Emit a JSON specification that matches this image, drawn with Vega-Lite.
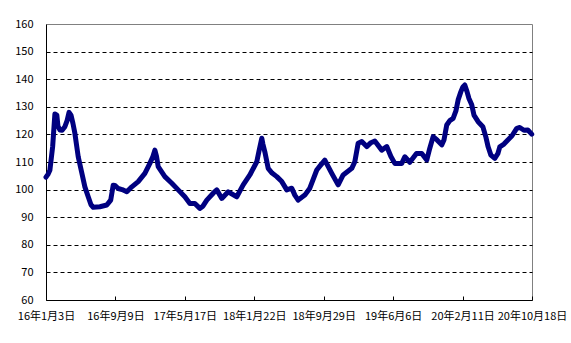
{
  "$schema": "https://vega.github.io/schema/vega-lite/v6.json",
  "width": 486,
  "height": 276,
  "autosize": {"type": "none"},
  "padding": {"left": 46, "top": 24, "right": 39, "bottom": 43},
  "background": "white",
  "config": {
    "view": {"stroke": "#808080", "strokeWidth": 1},
    "font": "Noto Sans CJK JP"
  },
  "data": {
    "values": [
      {"date": "2016-01-03", "value": 104.5},
      {"date": "2016-01-10", "value": 105.5},
      {"date": "2016-01-17", "value": 107},
      {"date": "2016-01-27", "value": 115.6},
      {"date": "2016-02-04", "value": 127.4},
      {"date": "2016-02-11", "value": 127},
      {"date": "2016-02-15", "value": 123},
      {"date": "2016-02-22", "value": 121.6},
      {"date": "2016-03-01", "value": 121.5},
      {"date": "2016-03-11", "value": 122.8},
      {"date": "2016-03-19", "value": 125},
      {"date": "2016-03-26", "value": 128},
      {"date": "2016-04-02", "value": 127},
      {"date": "2016-04-09", "value": 124},
      {"date": "2016-04-16", "value": 120.4},
      {"date": "2016-04-28", "value": 111.9},
      {"date": "2016-05-11", "value": 106},
      {"date": "2016-05-22", "value": 101},
      {"date": "2016-06-03", "value": 97.4},
      {"date": "2016-06-13", "value": 94.5},
      {"date": "2016-06-21", "value": 93.6},
      {"date": "2016-07-15", "value": 93.8},
      {"date": "2016-08-09", "value": 94.4},
      {"date": "2016-08-23", "value": 96.2},
      {"date": "2016-09-01", "value": 101.6},
      {"date": "2016-09-07", "value": 101.5},
      {"date": "2016-09-19", "value": 100.4},
      {"date": "2016-10-03", "value": 100},
      {"date": "2016-10-20", "value": 99.2},
      {"date": "2016-11-07", "value": 101},
      {"date": "2016-11-30", "value": 102.9},
      {"date": "2016-12-24", "value": 105.9},
      {"date": "2017-01-11", "value": 109.5},
      {"date": "2017-01-22", "value": 112},
      {"date": "2017-01-29", "value": 114.3},
      {"date": "2017-02-04", "value": 112},
      {"date": "2017-02-10", "value": 108.3},
      {"date": "2017-03-06", "value": 104.7},
      {"date": "2017-03-31", "value": 102.3},
      {"date": "2017-04-23", "value": 99.9},
      {"date": "2017-05-17", "value": 97.4},
      {"date": "2017-06-04", "value": 95},
      {"date": "2017-06-22", "value": 95},
      {"date": "2017-07-10", "value": 93.2},
      {"date": "2017-07-21", "value": 94},
      {"date": "2017-08-04", "value": 96.2},
      {"date": "2017-08-27", "value": 98.7},
      {"date": "2017-09-09", "value": 99.9},
      {"date": "2017-09-27", "value": 96.8},
      {"date": "2017-10-20", "value": 99.2},
      {"date": "2017-11-20", "value": 97.4},
      {"date": "2017-12-13", "value": 101.7},
      {"date": "2018-01-06", "value": 105.3},
      {"date": "2018-01-31", "value": 110.1},
      {"date": "2018-02-08", "value": 114},
      {"date": "2018-02-18", "value": 118.6},
      {"date": "2018-02-22", "value": 116.5},
      {"date": "2018-03-01", "value": 113.7},
      {"date": "2018-03-13", "value": 107.7},
      {"date": "2018-03-27", "value": 106},
      {"date": "2018-04-13", "value": 104.7},
      {"date": "2018-05-01", "value": 102.9},
      {"date": "2018-05-19", "value": 99.9},
      {"date": "2018-06-06", "value": 100.5},
      {"date": "2018-06-17", "value": 98},
      {"date": "2018-06-29", "value": 96.2},
      {"date": "2018-07-23", "value": 98},
      {"date": "2018-08-10", "value": 100.5},
      {"date": "2018-09-04", "value": 107.1},
      {"date": "2018-09-15", "value": 108.5},
      {"date": "2018-10-03", "value": 110.7},
      {"date": "2018-10-28", "value": 105.9},
      {"date": "2018-11-20", "value": 101.7},
      {"date": "2018-12-08", "value": 105.3},
      {"date": "2019-01-08", "value": 107.7},
      {"date": "2019-01-19", "value": 110.1},
      {"date": "2019-01-31", "value": 116.8},
      {"date": "2019-02-13", "value": 117.4},
      {"date": "2019-03-03", "value": 115.6},
      {"date": "2019-03-18", "value": 117},
      {"date": "2019-04-01", "value": 117.6},
      {"date": "2019-04-26", "value": 114.3},
      {"date": "2019-05-14", "value": 115.6},
      {"date": "2019-05-29", "value": 112},
      {"date": "2019-06-12", "value": 109.5},
      {"date": "2019-07-07", "value": 109.5},
      {"date": "2019-07-18", "value": 111.9},
      {"date": "2019-08-05", "value": 109.9},
      {"date": "2019-08-29", "value": 113.1},
      {"date": "2019-09-17", "value": 113.1},
      {"date": "2019-10-05", "value": 110.7},
      {"date": "2019-10-16", "value": 115},
      {"date": "2019-10-28", "value": 119.2},
      {"date": "2019-11-11", "value": 118},
      {"date": "2019-11-28", "value": 116.2},
      {"date": "2019-12-06", "value": 118},
      {"date": "2019-12-16", "value": 123.4},
      {"date": "2019-12-27", "value": 125},
      {"date": "2020-01-08", "value": 125.8},
      {"date": "2020-01-18", "value": 128.5},
      {"date": "2020-01-26", "value": 132.5},
      {"date": "2020-02-05", "value": 135.5},
      {"date": "2020-02-12", "value": 137.2},
      {"date": "2020-02-19", "value": 137.9},
      {"date": "2020-02-27", "value": 135.5},
      {"date": "2020-03-05", "value": 133},
      {"date": "2020-03-15", "value": 130.7},
      {"date": "2020-03-23", "value": 127},
      {"date": "2020-04-07", "value": 124.6},
      {"date": "2020-04-24", "value": 122.8},
      {"date": "2020-05-05", "value": 119},
      {"date": "2020-05-13", "value": 115.5},
      {"date": "2020-05-23", "value": 112.5},
      {"date": "2020-06-06", "value": 111.3},
      {"date": "2020-06-17", "value": 113},
      {"date": "2020-06-24", "value": 115.5},
      {"date": "2020-07-09", "value": 116.5},
      {"date": "2020-07-23", "value": 118},
      {"date": "2020-08-07", "value": 119.5},
      {"date": "2020-08-24", "value": 122.2},
      {"date": "2020-09-04", "value": 122.5},
      {"date": "2020-09-19", "value": 121.5},
      {"date": "2020-10-03", "value": 121.6},
      {"date": "2020-10-17", "value": 120.1}
    ]
  },
  "mark": {"type": "line", "color": "#000080", "strokeWidth": 5, "strokeJoin": "round", "strokeCap": "round"},
  "encoding": {
    "x": {
      "field": "date",
      "type": "temporal",
      "scale": {
        "type": "utc",
        "domain": [
          {"year": 2016, "month": 1, "date": 3, "utc": true},
          {"year": 2020, "month": 10, "date": 18, "utc": true}
        ]
      },
      "axis": {
        "title": null,
        "values": [
          {"year": 2016, "month": 1, "date": 3, "utc": true},
          {"year": 2016, "month": 9, "date": 9, "utc": true},
          {"year": 2017, "month": 5, "date": 17, "utc": true},
          {"year": 2018, "month": 1, "date": 22, "utc": true},
          {"year": 2018, "month": 9, "date": 29, "utc": true},
          {"year": 2019, "month": 6, "date": 6, "utc": true},
          {"year": 2020, "month": 2, "date": 11, "utc": true},
          {"year": 2020, "month": 10, "date": 18, "utc": true}
        ],
        "format": "%y年%-m月%-d日",
        "grid": false,
        "domainColor": "black",
        "domainWidth": 1,
        "ticks": true,
        "tickSize": -4,
        "tickColor": "black",
        "labelPadding": 14,
        "labelFontSize": 11,
        "labelColor": "black",
        "labelFlush": false,
        "labelOverlap": false,
        "labelBound": false
      }
    },
    "y": {
      "field": "value",
      "type": "quantitative",
      "scale": {"domain": [60, 160], "nice": false, "zero": false},
      "axis": {
        "title": null,
        "values": [60, 70, 80, 90, 100, 110, 120, 130, 140, 150, 160],
        "grid": true,
        "gridColor": "black",
        "gridDash": [4, 3],
        "gridOpacity": {"condition": {"test": "datum.value === 60 || datum.value === 160", "value": 0}, "value": 1},
        "ticks": false,
        "domainColor": "black",
        "domainWidth": 1,
        "labelPadding": 13,
        "labelFontSize": 11,
        "labelColor": "black"
      }
    }
  }
}
